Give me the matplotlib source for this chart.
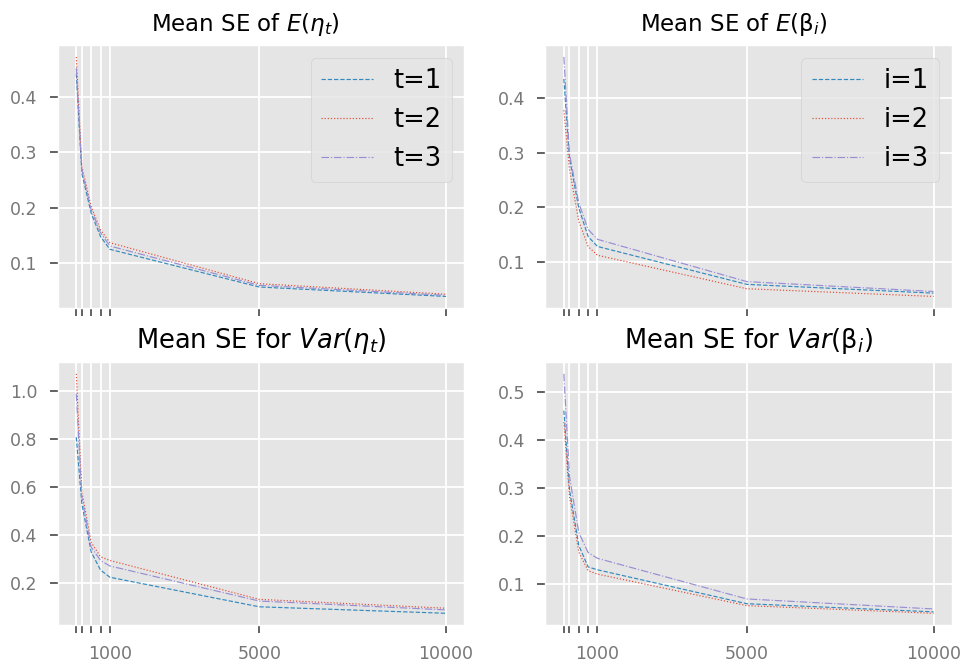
import matplotlib
matplotlib.use("Agg")
import matplotlib.pyplot as plt

plt.style.use("ggplot")

n_values = [100, 250, 500, 750, 1000, 5000, 10000]
xtick_labels = ["", "", "", "", "1000", "5000", "10000"]

# Mean SE of E(eta_t)
e_eta_t1 = [0.442, 0.262, 0.190, 0.148, 0.125, 0.057, 0.040]
e_eta_t2 = [0.472, 0.274, 0.202, 0.160, 0.137, 0.063, 0.044]
e_eta_t3 = [0.452, 0.268, 0.196, 0.155, 0.131, 0.060, 0.042]

# Mean SE of E(beta_i)
e_beta_i1 = [0.434, 0.290, 0.199, 0.147, 0.129, 0.060, 0.044]
e_beta_i2 = [0.377, 0.270, 0.175, 0.129, 0.113, 0.052, 0.038]
e_beta_i3 = [0.474, 0.298, 0.208, 0.160, 0.142, 0.065, 0.047]

# Mean SE for Var(eta_t)
var_eta_t1 = [0.808, 0.530, 0.330, 0.255, 0.225, 0.102, 0.075]
var_eta_t2 = [1.072, 0.580, 0.370, 0.310, 0.295, 0.133, 0.096]
var_eta_t3 = [0.989, 0.560, 0.350, 0.295, 0.272, 0.126, 0.089]

# Mean SE for Var(beta_i)
var_beta_i1 = [0.462, 0.297, 0.180, 0.135, 0.129, 0.058, 0.041]
var_beta_i2 = [0.438, 0.283, 0.166, 0.127, 0.120, 0.054, 0.038]
var_beta_i3 = [0.539, 0.325, 0.207, 0.165, 0.153, 0.068, 0.047]

panels = [
    (r"Mean SE of $E(\eta_t)$", [e_eta_t1, e_eta_t2, e_eta_t3], ["t=1", "t=2", "t=3"], True, 0.462, 16.5),
    (r"Mean SE of $E(\mathrm{β}_i)$", [e_beta_i1, e_beta_i2, e_beta_i3], ["i=1", "i=2", "i=3"], True, 0.462, 16.5),
    (r"Mean SE for $Var(\eta_t)$", [var_eta_t1, var_eta_t2, var_eta_t3], None, False, 0.5, 18.5),
    (r"Mean SE for $Var(\mathrm{β}_i)$", [var_beta_i1, var_beta_i2, var_beta_i3], None, False, 0.5, 18.5),
]

colors = ["#348ABD", "#E24A33", "#988ED5"]
styles = ["--", ":", "-."]

fig, axes = plt.subplots(2, 2, figsize=(9.63, 6.68), dpi=100, sharex=True)
fig.subplots_adjust(left=0.060, right=0.9886, top=0.9326, bottom=0.064,
                    wspace=0.199, hspace=0.203)

for ax, (title, series, labels, legend, tx, tfs) in zip(axes.flat, panels):
    for i, s in enumerate(series):
        lab = labels[i] if labels else None
        ax.plot(n_values, s, linestyle=styles[i], color=colors[i], linewidth=0.85, label=lab)
    ax.set_title(title, fontsize=tfs, color="black", pad=10, x=tx)
    ax.set_xticks(n_values)
    ax.set_xticklabels(xtick_labels)
    ax.tick_params(labelsize=12.5, colors="#555555", labelcolor="#777777",
                   length=6, width=1.3, pad=8.5)
    ax.grid(True, color="white", linewidth=1.3)
    if legend:
        ax.legend(fontsize=18.5, loc="upper right")

axes[0, 0].set_yticks([0.1, 0.2, 0.3, 0.4])
axes[0, 1].set_yticks([0.1, 0.2, 0.3, 0.4])
axes[1, 0].set_yticks([0.2, 0.4, 0.6, 0.8, 1.0])
axes[1, 1].set_yticks([0.1, 0.2, 0.3, 0.4, 0.5])

fig.savefig("out.png", dpi=100)
